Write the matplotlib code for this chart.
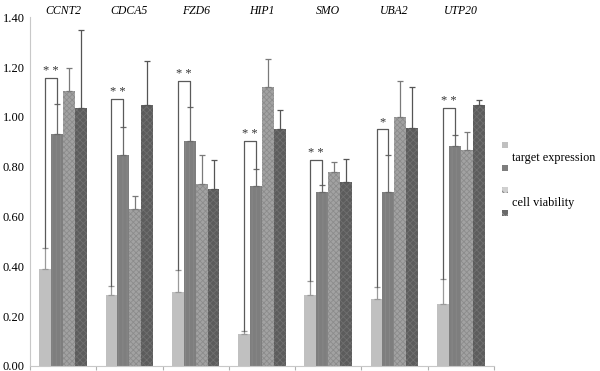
import matplotlib
matplotlib.use('Agg')
import matplotlib.pyplot as plt
import numpy as np
from matplotlib.patches import Rectangle

genes = ['CCNT2', 'CDCA5', 'FZD6', 'HIP1', 'SMO', 'UBA2', 'UTP20']

# four series per gene, with upper error
expr_si = [0.390, 0.284, 0.297, 0.128, 0.285, 0.267, 0.247]
expr_si_err = [0.085, 0.037, 0.088, 0.013, 0.056, 0.049, 0.101]
expr_ctrl = [0.933, 0.848, 0.903, 0.721, 0.697, 0.697, 0.883]
expr_ctrl_err = [0.117, 0.113, 0.138, 0.070, 0.030, 0.152, 0.044]
viab_si = [1.105, 0.632, 0.731, 1.119, 0.777, 1.001, 0.869]
viab_si_err = [0.091, 0.049, 0.118, 0.112, 0.043, 0.144, 0.070]
viab_ctrl = [1.035, 1.047, 0.711, 0.951, 0.740, 0.957, 1.049]
viab_ctrl_err = [0.314, 0.177, 0.116, 0.076, 0.091, 0.163, 0.019]

bracket_y = [1.157, 1.071, 1.145, 0.905, 0.827, 0.953, 1.035]
stars = ['**', '**', '**', '**', '**', '*', '**']

yticks = [0.0, 0.2, 0.4, 0.6, 0.8, 1.0, 1.2, 1.4]

plt.rcParams['font.family'] = ['Liberation Serif', 'DejaVu Serif']
plt.rcParams['hatch.linewidth'] = 0.6

fig = plt.figure(figsize=(6, 3.71), dpi=100)
ax = fig.add_axes([0.05, 0.0135, 0.773, 0.940])

x = np.arange(len(genes))
w = 0.18
series = [
    (expr_si, expr_si_err, '#c0c0c0', None, '#c0c0c0', '#9a9a9a'),
    (expr_ctrl, expr_ctrl_err, '#7e7e7e', '||||', '#888888', '#6a6a6a'),
    (viab_si, viab_si_err, '#a2a2a2', 'xxxxxx', '#8c8c8c', '#7a7a7a'),
    (viab_ctrl, viab_ctrl_err, '#5c5c5c', 'xxxxx', '#707070', '#555555'),
]
for i, (vals, errs, fc, hatch, hc, ec) in enumerate(series):
    pos = x + (i - 1.5) * w
    ax.bar(pos, vals, width=w, color=fc, hatch=hatch, edgecolor=hc,
           linewidth=0, zorder=2)
    ax.errorbar(pos, vals, yerr=[np.zeros(len(vals)), errs], fmt='none',
                ecolor=ec, elinewidth=0.9, capsize=2, capthick=0.9, zorder=3)

# significance brackets
for i in range(len(genes)):
    xl = x[i] - 1.5 * w
    xr = x[i] - 0.5 * w
    yl = expr_si[i] + expr_si_err[i]
    yr = expr_ctrl[i] + expr_ctrl_err[i]
    h = bracket_y[i]
    ax.plot([xl, xl, xr, xr], [yl, h, h, yr], color='#5a5a5a', lw=0.9, zorder=4)
    ax.text((xl + xr) / 2, h + 0.003, ' '.join(stars[i]), ha='center', va='bottom',
            fontsize=9, color='#333333')

ax.set_xlim(-0.5, len(genes) - 0.5)
ax.set_ylim(0, 1.4)
ax.set_yticks(yticks)
ax.set_yticklabels(['%.2f' % v for v in yticks], fontsize=9)
ax.tick_params(axis='y', length=0, pad=4)
ax.set_xticks(np.arange(len(genes) + 1) - 0.5)
ax.set_xticklabels([])
ax.tick_params(axis='x', direction='out', length=3, color='#b0b0b0')
for s in ['top', 'right']:
    ax.spines[s].set_visible(False)
ax.spines['left'].set_color('#c8c8c8')
ax.spines['bottom'].set_color('#c8c8c8')

for i, g in enumerate(genes):
    ax.text(x[i], 1.0, g, transform=ax.get_xaxis_transform(), ha='center',
            va='bottom', fontsize=8.5, style='italic')

# legend drawn by hand
leg = [(505, 145, '#c0c0c0', None, '#c0c0c0'),
       (505, 168, '#7e7e7e', None, '#7e7e7e'),
       (505, 190, '#d0d0d0', 'xxx', '#808080'),
       (505, 213, '#6a6a6a', 'xxx', '#9a9a9a')]
for px, py, fc, hatch, ec in leg:
    fig.add_artist(Rectangle(((px - 3) / 600, 1 - (py + 3) / 371), 6 / 600, 6 / 371,
                             transform=fig.transFigure, facecolor=fc, hatch=hatch,
                             edgecolor=ec, linewidth=0))
fig.text(512 / 600, 1 - 158 / 371, 'target expression', fontsize=8.8, va='center')
fig.text(512 / 600, 1 - 203 / 371, 'cell viability', fontsize=8.8, va='center')

fig.savefig('out.png', dpi=100)
